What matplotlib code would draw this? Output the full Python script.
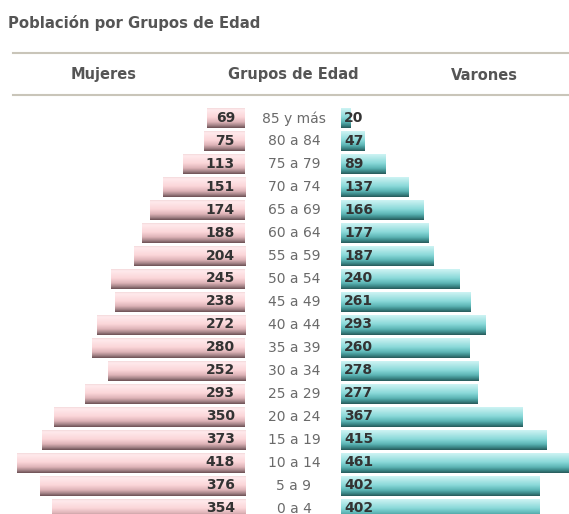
import numpy as np
import matplotlib
matplotlib.use("Agg")
import matplotlib.pyplot as plt
from matplotlib.colors import LinearSegmentedColormap
from matplotlib.lines import Line2D

# population by age group (top row = oldest)
ages = ['85 y más', '80 a 84', '75 a 79', '70 a 74', '65 a 69', '60 a 64',
        '55 a 59', '50 a 54', '45 a 49', '40 a 44', '35 a 39', '30 a 34',
        '25 a 29', '20 a 24', '15 a 19', '10 a 14', '5 a 9', '0 a 4']
mujeres = [69, 75, 113, 151, 174, 188, 204, 245, 238, 272, 280, 252,
           293, 350, 373, 418, 376, 354]
varones = [20, 47, 89, 137, 166, 177, 187, 240, 261, 293, 260, 278,
           277, 367, 415, 461, 402, 402]

W, H = 569, 514
fig = plt.figure(figsize=(W / 100, H / 100), dpi=100)
fig.patch.set_facecolor('white')


def px_axes(x0, x1, top, bottom):
    return fig.add_axes([x0 / W, 1 - bottom / H, (x1 - x0) / W, (bottom - top) / H])


row_px = 22.96
top_px = 106.8
n = len(ages)
ax_m = px_axes(17, 245, top_px, top_px + n * row_px)
ax_v = px_axes(341, 569, top_px, top_px + n * row_px)

pink = LinearSegmentedColormap.from_list('pink', [
    (0.0, '#f4dadc'), (0.08, '#ffeaec'), (0.45, '#fbd6d9'),
    (0.7, '#deb4b8'), (0.86, '#a8878b'), (1.0, '#6c5054')])
teal = LinearSegmentedColormap.from_list('teal', [
    (0.0, '#cdf3f3'), (0.08, '#c2efef'), (0.45, '#8ad9d9'),
    (0.7, '#5db6b6'), (0.86, '#3d8a8a'), (1.0, '#275a5a')])

grad = np.linspace(0, 1, 64).reshape(-1, 1)
bar_h = 0.87

for ax, vals, cmap, xmax in [(ax_m, mujeres, pink, max(mujeres)),
                             (ax_v, varones, teal, max(varones))]:
    for i, v in enumerate(vals):
        ax.imshow(grad, cmap=cmap, extent=(0, v, i + bar_h / 2, i - bar_h / 2),
                  aspect='auto', interpolation='bilinear')
    ax.set_xlim(0, xmax)
    ax.set_ylim(n - 0.5, -0.5)
    ax.axis('off')
ax_m.invert_xaxis()

for i, (a, m, v) in enumerate(zip(ages, mujeres, varones)):
    ax_m.annotate(str(m), xy=(0, i), xytext=(-10, 0.5), textcoords='offset pixels',
                  ha='right', va='center', fontsize=10, fontweight='bold',
                  color='#333333', annotation_clip=False)
    ax_v.annotate(str(v), xy=(0, i), xytext=(3, 0.5), textcoords='offset pixels',
                  ha='left', va='center', fontsize=10, fontweight='bold',
                  color='#333333', annotation_clip=False)
    ax_v.annotate(a, xy=(294 / W, i), xycoords=('figure fraction', 'data'),
                  ha='center', va='center', fontsize=10, color='#6a6a6a',
                  annotation_clip=False)

# title, header rules and column headers
fig.text(8 / W, 1 - 23 / H, 'Población por Grupos de Edad', ha='left', va='center',
         fontsize=10.7, fontweight='bold', color='#555555')
for y in (52.5, 95):
    fig.add_artist(Line2D([12.7 / W, 1], [1 - y / H] * 2, color='#c9c5b9', lw=1.5))
for x, lab in [(103.5, 'Mujeres'), (293.5, 'Grupos de Edad'), (484.5, 'Varones')]:
    fig.text(x / W, 1 - 75 / H, lab, ha='center', va='center',
             fontsize=10.5, fontweight='bold', color='#555555')

fig.savefig('out.png', dpi=100)
